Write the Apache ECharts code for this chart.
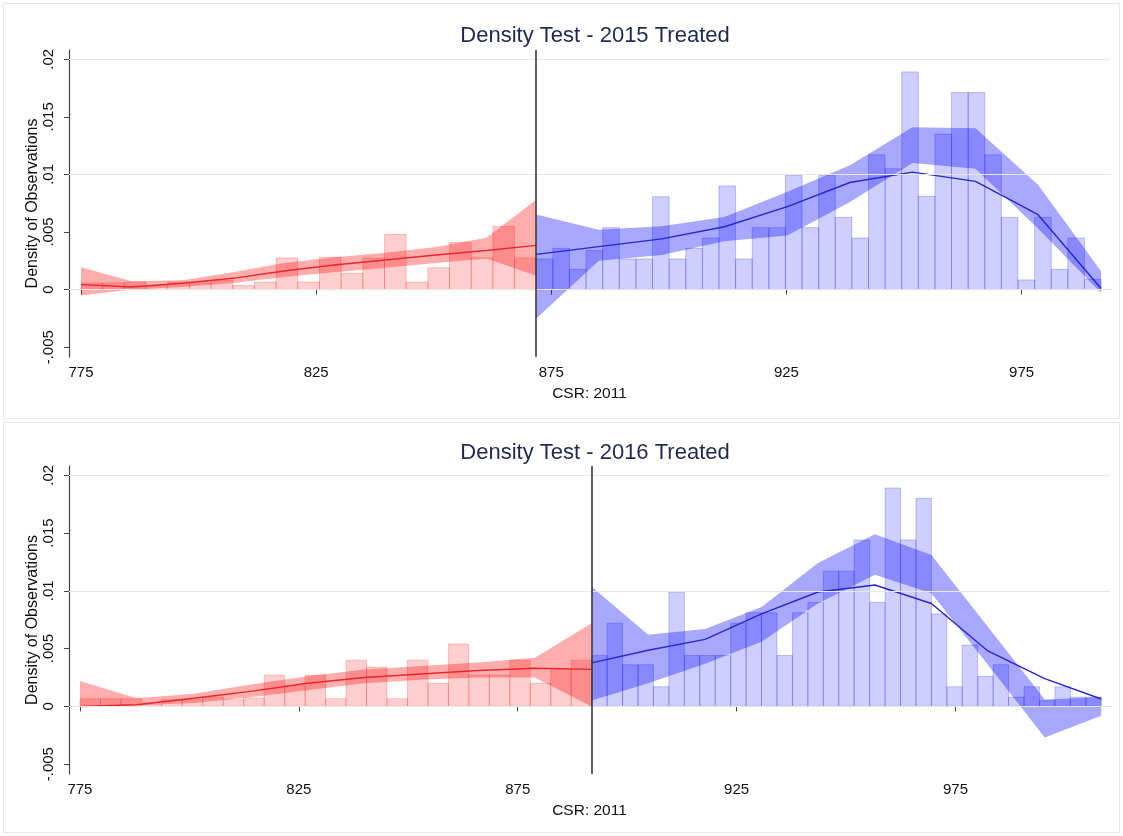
<!DOCTYPE html>
<html>
<head>
<meta charset="utf-8">
<script src="https://cdn.jsdelivr.net/npm/echarts@6/dist/echarts.min.js"></script>
<style>html,body{margin:0;padding:0;background:#fff}#c{width:1123px;height:836px}</style>
</head>
<body>
<div id="c"></div>
<script>
// ---------------- DATA ----------------
const titles = ['Density Test - 2015 Treated', 'Density Test - 2016 Treated'];
const xTickLabels = [775, 825, 875, 925, 975];
const yTickLabels = [-0.005, 0, 0.005, 0.01, 0.015, 0.02];

// Panel 1 (2015)
const cutoff2015 = 871.8;
const leftRange2015 = [775, 871.8];
const rightRange2015 = [871.8, 991.9];
const leftBars2015 = [0.00058,0.00058,0.00066,0.00035,0.00066,0.00058,0.0008,0.00035,0.00066,0.00275,0.00066,0.0028,0.0014,0.00275,0.0048,0.00066,0.0019,0.0041,0.00275,0.0055,0.00275];
const rightBars2015 = [0.00266,0.00358,0.00176,0.0034,0.00538,0.00266,0.00266,0.00806,0.00266,0.00358,0.00448,0.0090,0.00266,0.00538,0.00538,0.00991,0.00538,0.00991,0.00627,0.00448,0.0117,0.0105,0.0189,0.0081,0.0135,0.0171,0.0171,0.0117,0.00627,0.00084,0.00627,0.00176,0.00448,0.0009];
const leftX2015 = [775, 785.8, 796.6, 807.3, 818.1, 828.9, 839.7, 850.5, 861.2, 871.8];
const leftFit2015 = [0.00043,0.00023,0.00055,0.00098,0.00162,0.00214,0.00257,0.0030,0.0034,0.00384];
const leftLo2015 = [-0.00052,0.0,0.00023,0.00058,0.0011,0.0015,0.0019,0.0023,0.0027,0.0012];
const leftHi2015 = [0.00194,0.00072,0.00081,0.0015,0.0023,0.0028,0.0032,0.0037,0.0045,0.0078];
const rightX2015 = [871.8, 885.1, 898.5, 911.8, 925.2, 938.5, 951.8, 965.2, 978.5, 991.9];
const rightFit2015 = [0.00306,0.00373,0.0044,0.00546,0.0072,0.0093,0.0102,0.0094,0.0065,0.0001];
const rightLo2015 = [-0.0025,0.0025,0.0030,0.0042,0.0047,0.0076,0.0110,0.0105,0.0053,-0.0003];
const rightHi2015 = [0.00653,0.0052,0.0055,0.0063,0.0085,0.0108,0.0141,0.0140,0.0091,0.0016];

// Panel 2 (2016)
const cutoff2016 = 891.9;
const leftRange2016 = [775, 891.9];
const rightRange2016 = [891.9, 1008.3];
const leftBars2016 = [0.00066,0.00066,0.00066,0.0002,0.00058,0.00058,0.0008,0.00058,0.00072,0.0027,0.0018,0.0027,0.00066,0.004,0.0034,0.00066,0.004,0.002,0.0054,0.0027,0.0027,0.004,0.002,0.0033,0.004];
const rightBars2016 = [0.0044,0.0072,0.0036,0.0036,0.0017,0.0099,0.0044,0.0044,0.0044,0.0072,0.0081,0.0081,0.0044,0.0081,0.009,0.0117,0.0117,0.0144,0.009,0.0189,0.0144,0.018,0.008,0.0017,0.0053,0.0026,0.0036,0.0008,0.0017,0.0005,0.0017,0.0008,0.0008];
const leftX2016 = [775, 788.0, 801.0, 814.0, 827.0, 840.0, 852.9, 865.9, 878.9, 891.9];
const leftFit2016 = [0.0,0.00014,0.0007,0.0013,0.002,0.0025,0.0028,0.0031,0.0033,0.0032];
const leftLo2016 = [-0.0001,0.0001,0.0003,0.0008,0.0014,0.002,0.0023,0.0025,0.0025,0.0];
const leftHi2016 = [0.0022,0.0007,0.0011,0.0019,0.0026,0.0032,0.0035,0.0038,0.0042,0.0072];
const rightX2016 = [891.9, 904.8, 917.8, 930.7, 943.6, 956.6, 969.5, 982.4, 995.4, 1008.3];
const rightFit2016 = [0.00376,0.00486,0.0058,0.0080,0.0099,0.0105,0.0089,0.0048,0.0024,0.00064];
const rightLo2016 = [0.0005,0.002,0.0037,0.0056,0.0089,0.0114,0.0098,0.0036,-0.0027,-0.0008];
const rightHi2016 = [0.01035,0.0062,0.0067,0.0086,0.0124,0.0149,0.0131,0.0069,0.0006,0.0008];

// ---------------- STYLE / LAYOUT ----------------
const FONT = '"Liberation Sans", Arial, Helvetica, sans-serif';
const RED_BAR = 'rgba(255,0,0,0.19)', RED_BAR_EDGE = 'rgba(230,0,0,0.2)';
const RED_BAND = 'rgba(255,0,0,0.32)', RED_LINE = '#ea2630';
const BLUE_BAR = 'rgba(0,0,255,0.19)', BLUE_BAR_EDGE = 'rgba(0,0,230,0.22)';
const BLUE_BAND = 'rgba(0,0,255,0.34)', BLUE_LINE = '#2626cc';
const AXIS_COLOR = '#444';

function binData(range, heights) {
  const n = heights.length, w = (range[1] - range[0]) / n;
  return heights.map((h, i) => [range[0] + i * w, range[0] + (i + 1) * w, h]);
}
function barSeries(range, heights, fill, edge, gi) {
  return {
    type: 'custom', xAxisIndex: gi, yAxisIndex: gi, silent: true, z: 2,
    data: binData(range, heights),
    encode: { x: [0, 1], y: 2 },
    renderItem: (params, api) => {
      const p0 = api.coord([api.value(0), api.value(2)]);
      const p1 = api.coord([api.value(1), 0]);
      return { type: 'rect', shape: { x: p0[0], y: p0[1], width: p1[0] - p0[0], height: p1[1] - p0[1] },
               style: { fill: fill, stroke: edge, lineWidth: 1 } };
    }
  };
}
function bandSeries(xs, lo, hi, color, gi) {
  const data = xs.map((x, i) => [x, lo[i], hi[i]]);
  return {
    type: 'custom', xAxisIndex: gi, yAxisIndex: gi, silent: true, z: 3,
    data: data, encode: { x: 0, y: [1, 2] },
    renderItem: (params, api) => {
      if (params.dataIndex !== 0) return null;
      const pts = [];
      for (let i = 0; i < data.length; i++) pts.push(api.coord([data[i][0], data[i][2]]));
      for (let i = data.length - 1; i >= 0; i--) pts.push(api.coord([data[i][0], data[i][1]]));
      return { type: 'polygon', shape: { points: pts }, style: { fill: color } };
    }
  };
}
function lineSeries(xs, ys, color, gi) {
  return {
    type: 'line', xAxisIndex: gi, yAxisIndex: gi, silent: true, z: 4,
    data: xs.map((x, i) => [x, ys[i]]), symbol: 'none', smooth: false,
    lineStyle: { color: color, width: 1.4 }, animation: false
  };
}
function gridLineSeries(gi) {
  return {
    type: 'line', xAxisIndex: gi, yAxisIndex: gi, data: [], silent: true, z: 1,
    markLine: { silent: true, symbol: ['none', 'none'], label: { show: false }, animation: false,
      lineStyle: { color: '#e6e6e6', width: 1, type: 'solid' },
      data: yTickLabels.map(v => ({ yAxis: v })) }
  };
}
function cutoffSeries(cut, gi) {
  return {
    type: 'line', xAxisIndex: gi, yAxisIndex: gi, data: [], silent: true, z: 5,
    markLine: { silent: true, symbol: ['none', 'none'], label: { show: false }, animation: false,
      lineStyle: { color: '#3a3a3a', width: 1.6, type: 'solid' },
      data: [{ xAxis: cut }] }
  };
}
const yFmt = v => { if (Math.abs(v) < 1e-12) return '0'; return String(+v.toFixed(3)).replace('0.', '.'); };

const grids = [
  { left: 69, top: 50, width: 1041, height: 307 },
  { left: 69, top: 466, width: 1041, height: 308 }
];
const xRanges = [[772.45, 993.8], [772.5, 1010.3]];
const xAxes = grids.map((g, i) => ({
  type: 'value', gridIndex: i, min: xRanges[i][0], max: xRanges[i][1],
  name: 'CSR: 2011', nameLocation: 'middle', nameGap: 29, nameMoveOverlap: false,
  nameTextStyle: { fontFamily: FONT, fontSize: 15.5, color: '#111' },
  axisLine: { show: true, lineStyle: { color: AXIS_COLOR, width: 1.2 } },
  axisTick: { show: true, length: 5, customValues: xTickLabels, lineStyle: { color: AXIS_COLOR } },
  axisLabel: { customValues: xTickLabels, margin: 8, fontFamily: FONT, fontSize: 15, color: '#111' },
  splitLine: { show: false }
}));
const yAxes = grids.map((g, i) => ({
  type: 'value', gridIndex: i, min: -0.00585, max: 0.0208,
  name: 'Density of Observations', nameLocation: 'middle', nameGap: 28, nameRotate: 90, nameMoveOverlap: false,
  nameTextStyle: { fontFamily: FONT, fontSize: 16, color: '#111' },
  axisLine: { show: true, lineStyle: { color: AXIS_COLOR, width: 1.2 } },
  axisTick: { show: true, length: 5, customValues: yTickLabels, lineStyle: { color: AXIS_COLOR } },
  axisLabel: { customValues: yTickLabels, rotate: 90, margin: 13, fontFamily: FONT, fontSize: 15, color: '#111', formatter: yFmt },
  splitLine: { show: false }
}));

const panels = [
  { cut: cutoff2015, lr: leftRange2015, rr: rightRange2015, lb: leftBars2015, rb: rightBars2015,
    lx: leftX2015, lf: leftFit2015, llo: leftLo2015, lhi: leftHi2015,
    rx: rightX2015, rf: rightFit2015, rlo: rightLo2015, rhi: rightHi2015 },
  { cut: cutoff2016, lr: leftRange2016, rr: rightRange2016, lb: leftBars2016, rb: rightBars2016,
    lx: leftX2016, lf: leftFit2016, llo: leftLo2016, lhi: leftHi2016,
    rx: rightX2016, rf: rightFit2016, rlo: rightLo2016, rhi: rightHi2016 }
];
const series = [];
panels.forEach((p, gi) => {
  series.push(gridLineSeries(gi));
  series.push(barSeries(p.lr, p.lb, RED_BAR, RED_BAR_EDGE, gi));
  series.push(barSeries(p.rr, p.rb, BLUE_BAR, BLUE_BAR_EDGE, gi));
  series.push(bandSeries(p.lx, p.llo, p.lhi, RED_BAND, gi));
  series.push(bandSeries(p.rx, p.rlo, p.rhi, BLUE_BAND, gi));
  series.push(lineSeries(p.lx, p.lf, RED_LINE, gi));
  series.push(lineSeries(p.rx, p.rf, BLUE_LINE, gi));
  series.push(cutoffSeries(p.cut, gi));
});

const chart = echarts.init(document.getElementById('c'), null, { renderer: 'canvas' });
chart.setOption({
  backgroundColor: '#ffffff',
  animation: false,
  title: [
    { text: titles[0], left: 590, top: 20, textAlign: 'center',
      textStyle: { fontFamily: FONT, fontSize: 22, fontWeight: 'normal', color: '#1e2a4e' } },
    { text: titles[1], left: 590, top: 437, textAlign: 'center',
      textStyle: { fontFamily: FONT, fontSize: 22, fontWeight: 'normal', color: '#1e2a4e' } }
  ],
  graphic: [
    { type: 'rect', silent: true, z: -10, shape: { x: 3.5, y: 3.5, width: 1116, height: 415 },
      style: { fill: '#fff', stroke: '#e6e6e6', lineWidth: 1 } },
    { type: 'rect', silent: true, z: -10, shape: { x: 3.5, y: 422.5, width: 1116, height: 410 },
      style: { fill: '#fff', stroke: '#e6e6e6', lineWidth: 1 } }
  ],
  grid: grids,
  xAxis: xAxes,
  yAxis: yAxes,
  series: series
});
</script>
</body>
</html>
